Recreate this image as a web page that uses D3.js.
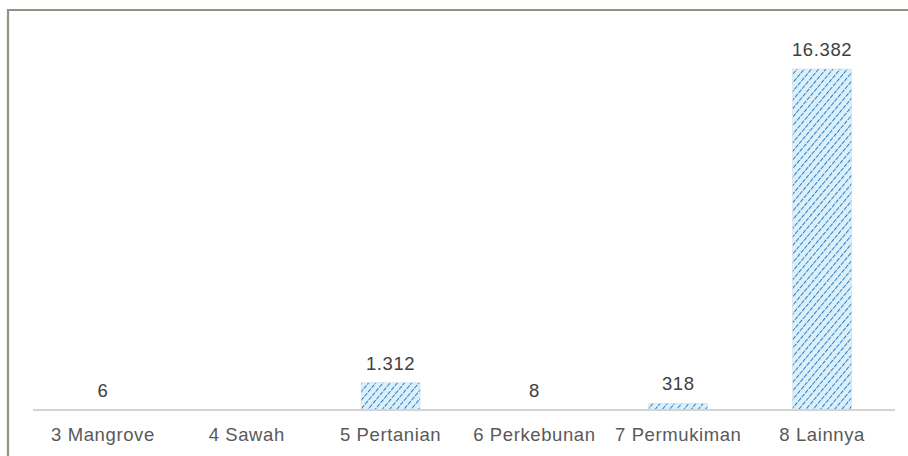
<!DOCTYPE html>
<html><head><meta charset="utf-8">
<script src="https://cdn.jsdelivr.net/npm/d3@7/dist/d3.min.js"></script>
<style>html,body{margin:0;padding:0;background:#fff;}svg{display:block;}</style>
</head><body>
<script>
const categories = ["3 Mangrove","4 Sawah","5 Pertanian","6 Perkebunan","7 Permukiman","8 Lainnya"];
const values = [6, null, 1312, 8, 318, 16382];
const valueLabels = ["6", "", "1.312", "8", "318", "16.382"];

const W = 908, H = 456;
const FONT = "Liberation Sans, Arial, sans-serif";
const svg = d3.select("body").append("svg").attr("width", W).attr("height", H);

// frame (top and left)
svg.append("path").attr("d", `M8,${H} L8,10 L${W},10`).attr("fill","none")
  .attr("stroke","#8e9583").attr("stroke-width",2.2);

const defs = svg.append("defs");
const pat = defs.append("pattern").attr("id","hatch").attr("patternUnits","userSpaceOnUse")
  .attr("width",5.5).attr("height",5.5).attr("patternTransform","rotate(40)");
pat.append("rect").attr("width",5.5).attr("height",5.5).attr("fill","#dcf0fb");
pat.append("line").attr("x1",0).attr("y1",0).attr("x2",0).attr("y2",5.5)
  .attr("stroke","#2a7cc0").attr("stroke-width",2).attr("stroke-dasharray","3.5,1");

const x = d3.scaleBand().domain(categories).range([31, 894]).padding(0);
const y = d3.scaleLinear().domain([0, 16382]).range([410, 69]);
const bw = x.bandwidth() * 0.41;

const g = svg.append("g");
categories.forEach((c, i) => {
  const v = values[i];
  const cx = x(c) + x.bandwidth() / 2;
  if (v != null) {
    g.append("rect").attr("x", cx - bw/2).attr("y", y(v)).attr("width", bw)
      .attr("height", Math.max(0.8, y(0) - y(v))).attr("fill", "url(#hatch)")
      .attr("stroke", "#c9dcea").attr("stroke-width", 0.5);
    g.append("text").attr("x", cx).attr("y", y(v) - 13).attr("text-anchor","middle")
      .attr("font-family",FONT).attr("font-size",18.5).attr("letter-spacing",0.6)
      .attr("fill","#404040").text(valueLabels[i]);
  }
});

// axis
const axis = svg.append("g").attr("transform","translate(0,410)")
  .call(d3.axisBottom(x).tickSize(0).tickPadding(18));
axis.select(".domain").attr("stroke","#d4d4d4").attr("stroke-width",2).attr("d","M33,0H895");
axis.selectAll("text").attr("font-family",FONT)
  .attr("font-size",18.5).attr("letter-spacing",0.6).attr("fill","#595959");
</script>
</body></html>
